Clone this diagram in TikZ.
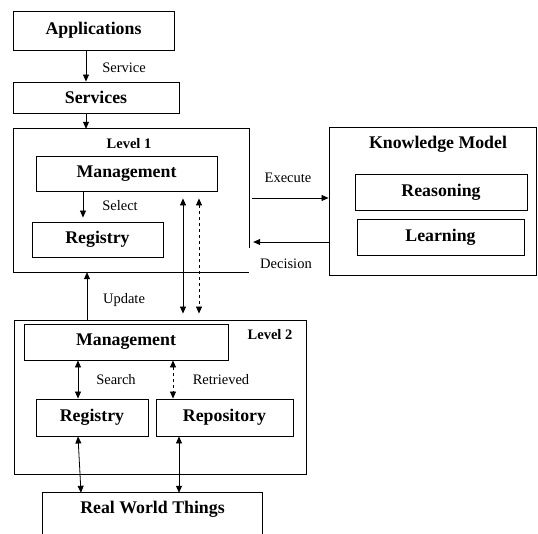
\documentclass[tikz,border=0pt]{standalone}
\usepackage{fontspec}
\setmainfont{Liberation Serif}
\usetikzlibrary{arrows.meta}
\begin{document}
\begin{tikzpicture}[x=1pt,y=-1pt,
  box/.style={draw, line width=0.9pt, inner sep=0pt, font=\bfseries\fontsize{17.8}{20}\selectfont},
  ghost/.style={inner sep=0pt},
  lbl/.style={inner sep=0pt, font=\fontsize{14.5}{16}\selectfont},
  blbl/.style={inner sep=0pt, font=\bfseries\fontsize{14.5}{16}\selectfont},
  arr/.style={line width=0.8pt, -{Triangle[length=7pt,width=6pt]}},
  darr/.style={line width=0.8pt, {Triangle[length=7pt,width=6pt]}-{Triangle[length=7pt,width=6pt]}},
  frame/.style={line width=0.9pt}
]
\useasboundingbox (0,0) rectangle (538,534);

% top boxes
\node[box, minimum width=161pt, minimum height=39pt] (app) at (93.5,30.5) {Applications};
\node[box, minimum width=166pt, minimum height=31pt] (serv) at (96,97.5) {Services};

% Level 1 frame (gap at lower right)
\node[ghost, minimum width=235pt, minimum height=143pt] (l1) at (131.5,200.5) {};
\draw[frame] (l1.east |- 0,248) -- (l1.north east) -- (l1.north west) -- (l1.south west) -- (l1.south east);
\node[blbl] (l1t) at (129,144) {Level 1};
\node[box, minimum width=181pt, minimum height=35pt] (mg1) at (126.5,173.5) {Management};
\node[box, minimum width=131pt, minimum height=35pt] (reg1) at (97.5,239.5) {Registry};

% Knowledge model
\node[box, minimum width=207pt, minimum height=148pt] (km) at (432.5,201) {};
\node[inner sep=0pt, font=\bfseries\fontsize{17.8}{20}\selectfont] (kmt) at (438,144) {Knowledge Model};
\node[box, minimum width=172pt, minimum height=36pt] (reas) at (441,192) {Reasoning};
\node[box, minimum width=167pt, minimum height=36pt] (learn) at (440.5,237) {Learning};

% Level 2
\node[box, minimum width=292pt, minimum height=154pt] (l2) at (160,397) {};
\node[blbl] (l2t) at (270,335) {Level 2};
\node[box, minimum width=204pt, minimum height=36pt] (mg2) at (126,342) {Management};
\node[box, minimum width=112pt, minimum height=37pt] (reg2) at (92,417.5) {Registry};
\node[box, minimum width=137pt, minimum height=37pt] (repo) at (224.5,417.5) {Repository};

% Real world things (open at bottom)
\node[ghost, minimum width=219pt, minimum height=41pt] (rwt) at (152.5,513.5) {};
\draw[frame] (rwt.west |- 0,534) -- (rwt.north west) -- (rwt.north east) -- (rwt.east |- 0,534);
\node[inner sep=0pt, font=\bfseries\fontsize{17.8}{20}\selectfont] (rwtt) at (152.5,509) {Real World Things};

% connectors
\draw[arr] (app.south -| 86,0) -- (serv.north -| 86,0);
\node[lbl] (lserv) at (124,68) {Service};
\draw[arr] (serv.south -| 86,0) -- (l1.north -| 86,0);

\draw[arr] (mg1.south -| 83,0) -- ([yshift=4pt]reg1.north -| 83,0);
\node[lbl] (lsel) at (120,206) {Select};

\draw[darr] ([yshift=-7pt]mg1.south -| 183,0) -- ([yshift=6pt]l2.north -| 183,0);
\draw[darr, dashed] ([yshift=-7pt]mg1.south -| 199,0) -- ([yshift=6pt]l2.north -| 199,0);

\draw[arr] (l2.north -| 87,0) -- (l1.south -| 87,0);
\node[lbl] (lupd) at (124,300) {Update};

\draw[arr] ([xshift=3pt]l1.east |- 0,198) -- (km.west |- 0,198);
\node[lbl] (lexe) at (288,178) {Execute};
\draw[arr] (km.west |- 0,242) -- ([xshift=4pt]l1.east |- 0,242);
\node[lbl] (ldec) at (286,264) {Decision};

\draw[darr] (mg2.south -| 78,0) -- (reg2.north -| 78,0);
\node[lbl] (lsea) at (116,380) {Search};
\draw[darr, dashed] (mg2.south -| 173,0) -- (repo.north -| 173,0);
\node[lbl] (lret) at (221,380) {Retrieved};

\draw[darr] (reg2.south -| 78,0) -- (rwt.north -| 81,0);
\draw[darr] (repo.south -| 179,0) -- (rwt.north -| 179,0);
\end{tikzpicture}
\end{document}
